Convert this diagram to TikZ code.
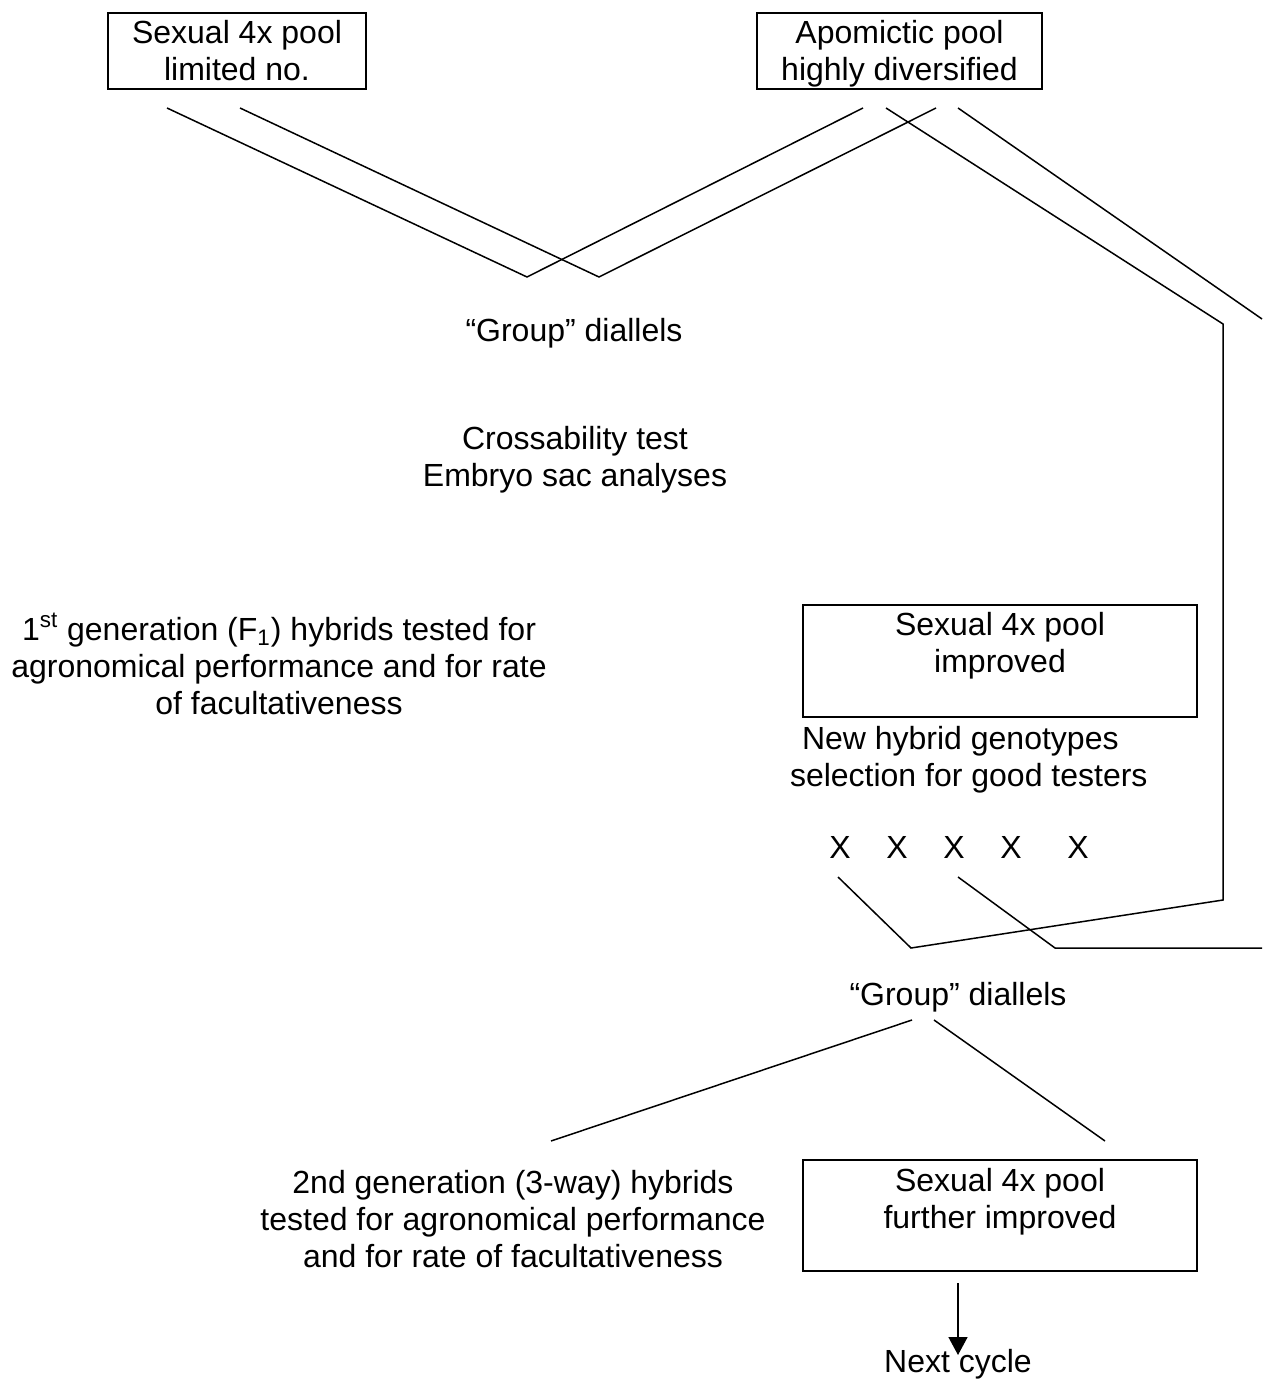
\documentclass[tikz,border=0pt]{standalone}
\usepackage{fontspec}
\setmainfont{Liberation Sans}
\usetikzlibrary{arrows.meta,calc}
\begin{document}
\begin{tikzpicture}[x=0.5pt,y=-0.5pt,
  every node/.style={font=\fontsize{16}{18.5}\selectfont, inner sep=0pt, outer sep=0pt},
  box/.style={draw, line width=1pt, align=center},
  txt/.style={align=center},
  conn/.style={line width=0.75pt, line join=miter}]
\useasboundingbox[fill=white] (0,0) rectangle (1262,1379);

% boxes
\node[box, minimum width=129pt, minimum height=38pt] (b1) at (237,51) {Sexual 4x pool\\limited no.};
\node[box, minimum width=142.5pt, minimum height=38pt] (b2) at (899.5,51) {\rule{0pt}{14.6pt}Apomictic pool\\highly diversified};
\node[box, minimum width=197pt, minimum height=56pt] (b3) at (1000,661) {Sexual 4x pool\\improved\\[-5pt]\strut};
\node[box, minimum width=197pt, minimum height=55.5pt] (b4) at (1000,1215.5) {Sexual 4x pool\\further improved\\[-7pt]\strut};

% texts
\node[txt] (gd1) at (574,333) {“Group” diallels};
\node[txt] (cross) at (575,460) {Crossability test\\Embryo sac analyses};
\node[txt] (gen1) at (279,664) {1\textsuperscript{st} generation (F\textsubscript{1}) hybrids tested for\\agronomical performance and for rate\\of facultativeness};
\node[align=left, anchor=west] (newhyb) at (790,760) {\hspace*{6pt}New hybrid genotypes\\selection for good testers};
\node (x1) at (840,847) {X};
\node (x2) at (897,847) {X};
\node (x3) at (954,847) {X};
\node (x4) at (1011,847) {X};
\node (x5) at (1078,847) {X};
\node[txt] (gd2) at (958,997) {“Group” diallels};
\node[txt] (gen2) at (513,1219) {2nd generation (3-way) hybrids\\tested for agronomical performance\\and for rate of facultativeness};
\node[txt] (next) at (958,1364) {Next cycle};

% connector end points
\coordinate (a1) at (167,108);
\coordinate (a2) at (240,108);
\coordinate (v1) at (527,277);
\coordinate (v2) at (599,277);
\coordinate (c1) at (863,108);
\coordinate (c2) at (936,108);
\coordinate (c3) at (886,108);
\coordinate (c4) at (958,108);
\coordinate (k1) at (1223,324);
\coordinate (k2) at (1223,900);
\coordinate (k3) at (911,948);
\coordinate (e1) at (1262,319);
\coordinate (s1) at (838,877);
\coordinate (s3) at (958,877);
\coordinate (k4) at (1055,948);
\coordinate (e2) at (1262,948);
\coordinate (g1) at (912,1020);
\coordinate (g2) at (934,1020);
\coordinate (h1) at (551,1141);
\coordinate (h2) at (1105,1141);
\coordinate (n1) at (958,1283);
\coordinate (n2) at (958,1355);

% connectors
\draw[conn] (a1) -- (v1) -- (c1);
\draw[conn] (a2) -- (v2) -- (c2);
\draw[conn] (c3) -- (k1) -- (k2) -- (k3) -- (s1);
\draw[conn] (c4) -- (e1);
\draw[conn] (s3) -- (k4) -- (e2);
\draw[conn] (g1) -- (h1);
\draw[conn] (g2) -- (h2);
\draw[conn, -{Triangle[width=9.5pt,length=9pt]}] (n1) -- (n2);
\end{tikzpicture}
\end{document}
